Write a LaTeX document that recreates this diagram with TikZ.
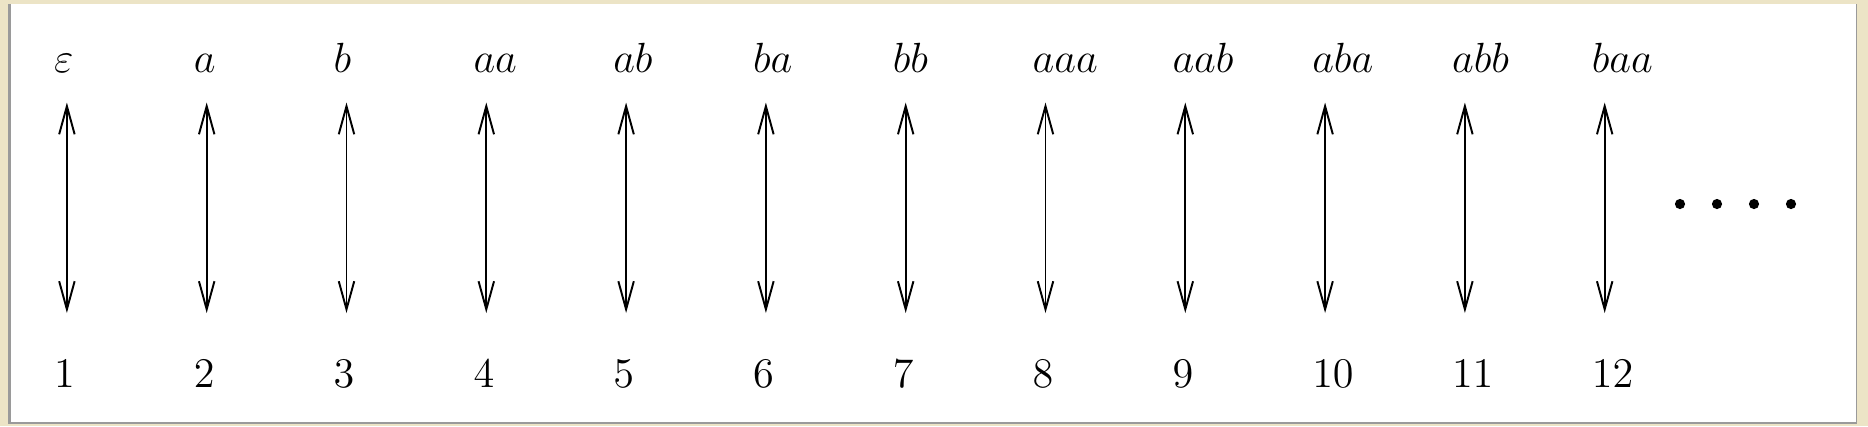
\documentclass[tikz,border=0pt]{standalone}
\usetikzlibrary{arrows.meta}
\definecolor{framebeige}{HTML}{ECE4C6}
\definecolor{shadowgray}{HTML}{9A9A9A}
\tikzset{
  lbl/.style={anchor=base west, inner sep=0pt, font=\fontsize{12}{14}\selectfont},
  link/.style={line width=0.55pt, {Straight Barb[length=8pt,width=4.4pt]}-{Straight Barb[length=8pt,width=4.4pt]}},
  ellip/.style={fill=black, circle, inner sep=0pt, minimum size=2.9pt},
}
\begin{document}
\begin{tikzpicture}[x=0.01cm, y=-0.01cm]
\fill[framebeige] (0,0) rectangle (1868,426);
\fill[shadowgray] (8,4) rectangle (1857,423.5);
\fill[white] (10.5,4) rectangle (1855.5,421.5);
\useasboundingbox (0,0) rectangle (1868,426);
\foreach \i/\w/\n in {0/\varepsilon/1, 1/a/2, 2/b/3, 3/aa/4, 4/ab/5, 5/ba/6, 6/bb/7, 7/aaa/8, 8/aab/9, 9/aba/10, 10/abb/11, 11/baa/12}{
  \coordinate (t\i) at ({66.9+139.8*\i},102.5);
  \coordinate (b\i) at ({66.9+139.8*\i},313);
  \node[lbl] (w\i) at ({66.9+139.8*\i-13.5},72) {$\w$};
  \node[lbl] (n\i) at ({66.9+139.8*\i-13.5},387) {$\n$};
  \draw[link] (t\i) -- (b\i);
}
\foreach \j/\x in {1/1680,2/1717,3/1754,4/1791}{
  \node[ellip] (d\j) at (\x,204) {};
}
\end{tikzpicture}
\end{document}
